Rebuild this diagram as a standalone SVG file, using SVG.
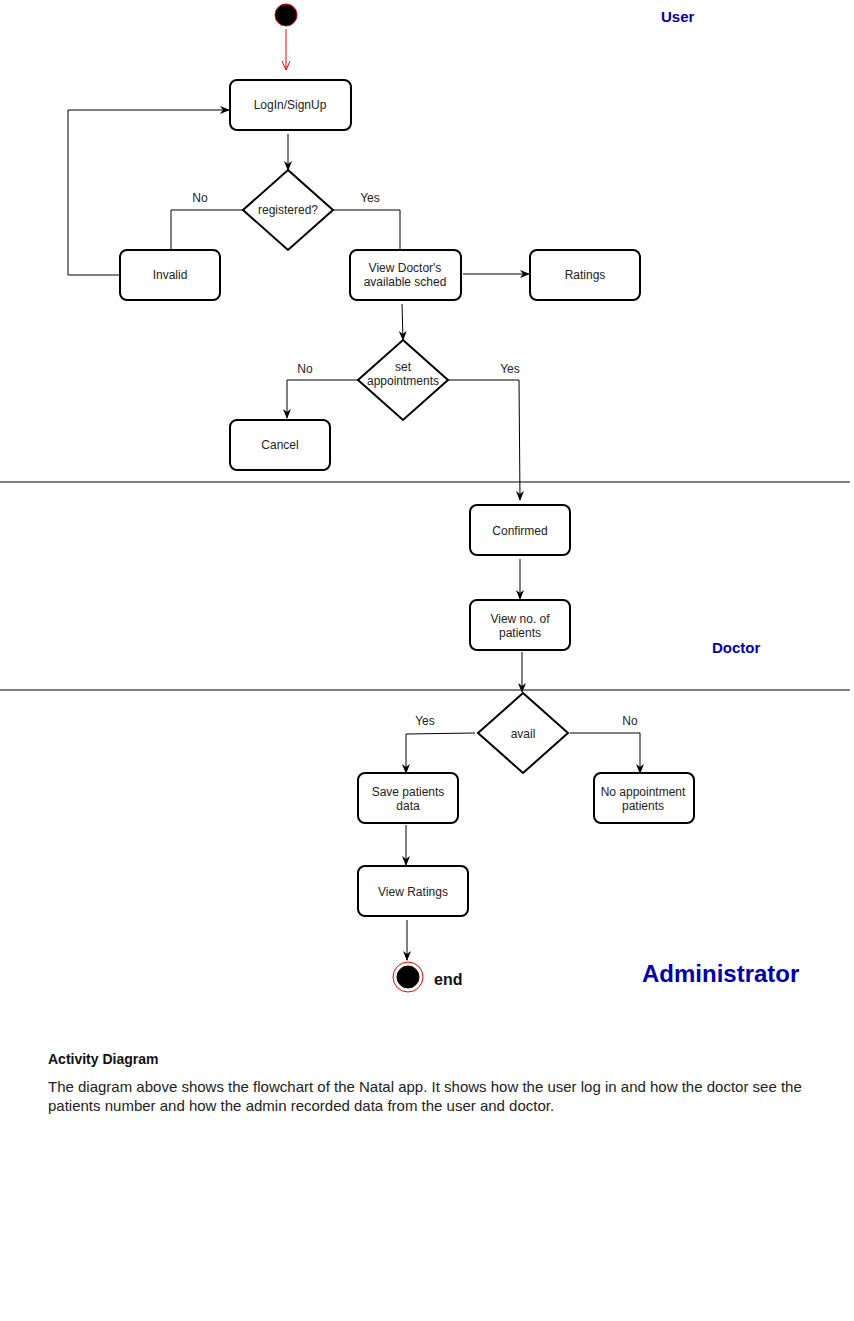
<svg xmlns="http://www.w3.org/2000/svg" width="854" height="1321" viewBox="0 0 854 1321">
<style>
.box{fill:#fff;stroke:#000;stroke-width:2}
.dia{fill:#fff;stroke:#000;stroke-width:2}
.t{font-family:"Liberation Sans",Arial,sans-serif;font-size:12px;fill:#222;text-anchor:middle}
.lbl{font-family:"Liberation Sans",Arial,sans-serif;font-size:12px;fill:#222;text-anchor:middle}
.edge{fill:none;stroke:#000;stroke-width:1}
.lane{font-family:"Liberation Sans",Arial,sans-serif;font-weight:bold;fill:#0000aa}
.body{font-family:"Liberation Sans",Arial,sans-serif;font-size:15px;fill:#222}
</style>
<defs>
<marker id="ah" viewBox="0 0 10 10" refX="9" refY="5" markerWidth="10" markerHeight="10" markerUnits="userSpaceOnUse" orient="auto">
<path d="M0,1 L10,5 L0,9 L3,5 Z" fill="#000"/>
</marker>
<marker id="ahred" viewBox="0 0 10 10" refX="9" refY="5" markerWidth="10" markerHeight="10" markerUnits="userSpaceOnUse" orient="auto">
<path d="M0,1 L9,5 L0,9" fill="none" stroke="#e00" stroke-width="1"/>
</marker>
</defs>
<rect width="854" height="1321" fill="#fff"/>

<g id="lanes">
<line x1="0" y1="482" x2="850" y2="482" stroke="#000" stroke-width="1"/>
<line x1="0" y1="690" x2="850" y2="690" stroke="#000" stroke-width="1"/>
<text class="lane" x="661" y="22" font-size="15">User</text>
<text class="lane" x="712" y="653" font-size="15">Doctor</text>
<text class="lane" x="642" y="982" font-size="24">Administrator</text>
</g>

<g id="connectors">
<line class="edge" x1="286" y1="29" x2="286" y2="70" style="stroke:#e00" marker-end="url(#ahred)"/>
<line class="edge" x1="288" y1="134" x2="288" y2="170" marker-end="url(#ah)"/>
<polyline class="edge" points="243,210 171,210 171,250"/>
<text class="lbl" x="200" y="202">No</text>
<polyline class="edge" points="333,210 400,210 400,250"/>
<text class="lbl" x="370" y="202">Yes</text>
<polyline class="edge" points="120,275 68,275 68,110 229,110" marker-end="url(#ah)"/>
<line class="edge" x1="463" y1="274" x2="529" y2="274" marker-end="url(#ah)"/>
<line class="edge" x1="402" y1="304" x2="403" y2="340" marker-end="url(#ah)"/>
<polyline class="edge" points="358,380 287,380 287,418" marker-end="url(#ah)"/>
<text class="lbl" x="305" y="373">No</text>
<polyline class="edge" points="448,380 519,380 520,500" marker-end="url(#ah)"/>
<text class="lbl" x="510" y="373">Yes</text>
<line class="edge" x1="520" y1="559" x2="520" y2="599" marker-end="url(#ah)"/>
<line class="edge" x1="522" y1="652" x2="522" y2="692" marker-end="url(#ah)"/>
<polyline class="edge" points="475,733 406,734 406,773" marker-end="url(#ah)"/>
<text class="lbl" x="425" y="725">Yes</text>
<polyline class="edge" points="570,733 640,733 640,773" marker-end="url(#ah)"/>
<text class="lbl" x="630" y="725">No</text>
<line class="edge" x1="406" y1="825" x2="406" y2="865" marker-end="url(#ah)"/>
<line class="edge" x1="407" y1="920" x2="407" y2="960" marker-end="url(#ah)"/>
</g>

<g id="start">
<circle cx="286" cy="15" r="11" fill="#000" stroke="#e00" stroke-width="1"/>
</g>
<g id="login">
<rect class="box" x="230" y="80" width="121" height="50" rx="7"/>
<text class="t" x="290" y="109">LogIn/SignUp</text>
</g>
<g id="registered">
<polygon class="dia" points="288,170 333,210 288,250 243,210"/>
<text class="t" x="288" y="214">registered?</text>
</g>
<g id="invalid">
<rect class="box" x="120" y="250" width="100" height="50" rx="7"/>
<text class="t" x="170" y="279">Invalid</text>
</g>
<g id="viewsched">
<rect class="box" x="350" y="250" width="111" height="50" rx="7"/>
<text class="t" x="405" y="272">View Doctor's</text>
<text class="t" x="405" y="286">available sched</text>
</g>
<g id="ratings">
<rect class="box" x="530" y="250" width="110" height="50" rx="7"/>
<text class="t" x="585" y="279">Ratings</text>
</g>
<g id="setappt">
<polygon class="dia" points="403,340 448,380 403,420 358,380"/>
<text class="t" x="403" y="371">set</text>
<text class="t" x="403" y="385">appointments</text>
</g>
<g id="cancel">
<rect class="box" x="230" y="420" width="100" height="50" rx="7"/>
<text class="t" x="280" y="449">Cancel</text>
</g>
<g id="confirmed">
<rect class="box" x="470" y="505" width="100" height="50" rx="7"/>
<text class="t" x="520" y="535">Confirmed</text>
</g>
<g id="viewno">
<rect class="box" x="470" y="600" width="100" height="50" rx="7"/>
<text class="t" x="520" y="623">View no. of</text>
<text class="t" x="520" y="637">patients</text>
</g>
<g id="avail">
<polygon class="dia" points="523,693 568,733 523,773 478,733"/>
<text class="t" x="523" y="738">avail</text>
</g>
<g id="save">
<rect class="box" x="358" y="773" width="100" height="50" rx="7"/>
<text class="t" x="408" y="796">Save patients</text>
<text class="t" x="408" y="810">data</text>
</g>
<g id="noappt">
<rect class="box" x="594" y="773" width="100" height="50" rx="7"/>
<text class="t" x="643" y="796">No appointment</text>
<text class="t" x="643" y="810">patients</text>
</g>
<g id="viewratings">
<rect class="box" x="358" y="866" width="110" height="50" rx="7"/>
<text class="t" x="413" y="896">View Ratings</text>
</g>
<g id="end">
<circle cx="408" cy="977" r="15" fill="#fff" stroke="#e00" stroke-width="1"/>
<circle cx="408" cy="977" r="11" fill="#000" stroke="#000"/>
<text x="434" y="985" font-family="Liberation Sans,Arial,sans-serif" font-weight="bold" font-size="16" fill="#111">end</text>
</g>

<g id="caption">
<text x="48" y="1064" font-family="Liberation Sans,Arial,sans-serif" font-weight="bold" font-size="14" fill="#111">Activity Diagram</text>
<text class="body" x="48" y="1092">The diagram above shows the flowchart of the Natal app. It shows how the user log in and how the doctor see the</text>
<text class="body" x="48" y="1111">patients number and how the admin recorded data from the user and doctor.</text>
</g>
</svg>
